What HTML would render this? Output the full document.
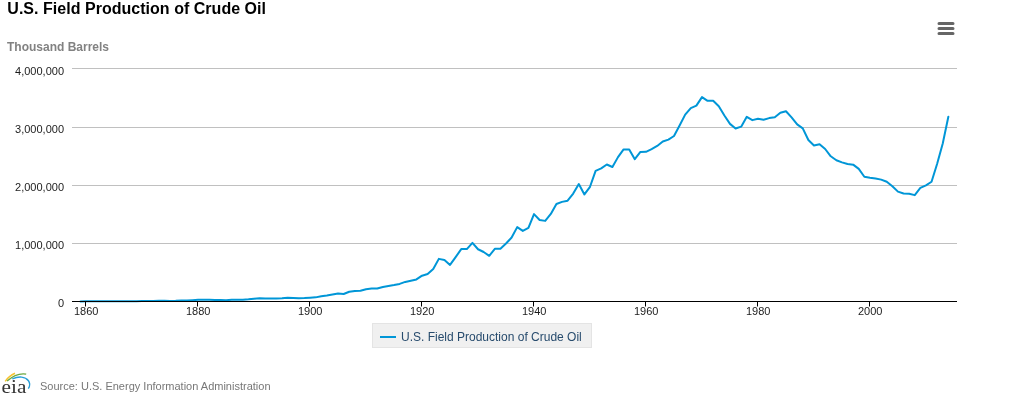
<!DOCTYPE html>
<html><head><meta charset="utf-8"><title>U.S. Field Production of Crude Oil</title>
<style>
html,body{margin:0;padding:0;background:#fff;}
body{width:1033px;height:408px;overflow:hidden;position:relative;font-family:"Liberation Sans",Arial,sans-serif;}
svg{position:absolute;left:0;top:0;}
svg text{font-family:"Liberation Sans",Arial,sans-serif;}
</style></head><body>
<svg width="1033" height="408" viewBox="0 0 1033 408">
<rect x="0" y="0" width="1033" height="408" fill="#fff"/>
<text x="7.3" y="13.5" font-size="16" font-weight="bold" fill="#000" textLength="258.7" lengthAdjust="spacing">U.S. Field Production of Crude Oil</text>
<text x="7" y="51" font-size="12" font-weight="bold" fill="#828282">Thousand Barrels</text>
<g><path d="M 72 243.5 L 957 243.5" stroke="#C0C0C0" stroke-width="1" fill="none"/><path d="M 72 185.5 L 957 185.5" stroke="#C0C0C0" stroke-width="1" fill="none"/><path d="M 72 127.5 L 957 127.5" stroke="#C0C0C0" stroke-width="1" fill="none"/><path d="M 72 68.5 L 957 68.5" stroke="#C0C0C0" stroke-width="1" fill="none"/></g>
<g font-size="11" fill="#1c1c1c"><text x="64" y="307" text-anchor="end">0</text><text x="64" y="249" text-anchor="end">1,000,000</text><text x="64" y="191" text-anchor="end">2,000,000</text><text x="64" y="133" text-anchor="end">3,000,000</text><text x="64" y="75" text-anchor="end">4,000,000</text></g>
<path d="M 80.50 301.40 L 86.10 301.37 L 91.70 301.28 L 97.30 301.22 L 102.90 301.25 L 108.50 301.28 L 114.09 301.25 L 119.69 301.19 L 125.29 301.21 L 130.89 301.19 L 136.49 301.16 L 142.09 301.09 L 147.69 301.10 L 153.29 301.03 L 158.89 300.83 L 164.49 300.77 L 170.08 300.89 L 175.68 300.87 L 181.28 300.62 L 186.88 300.51 L 192.48 300.24 L 198.08 299.87 L 203.68 299.79 L 209.28 299.64 L 214.88 300.04 L 220.48 299.99 L 226.07 300.13 L 231.67 299.77 L 237.27 299.76 L 242.87 299.80 L 248.47 299.36 L 254.07 298.74 L 259.67 298.25 L 265.27 298.47 L 270.87 298.59 L 276.47 298.53 L 282.06 298.33 L 287.66 297.86 L 293.26 297.89 L 298.86 298.19 L 304.46 298.09 L 310.06 297.71 L 315.66 297.37 L 321.26 296.25 L 326.86 295.57 L 332.46 294.60 L 338.06 293.58 L 343.65 294.05 L 349.25 291.75 L 354.85 291.03 L 360.45 290.76 L 366.05 289.23 L 371.65 288.60 L 377.25 288.45 L 382.85 286.97 L 388.45 285.97 L 394.04 285.08 L 399.64 283.93 L 405.24 281.93 L 410.84 280.73 L 416.44 279.43 L 422.04 275.68 L 427.64 273.98 L 433.24 269.02 L 438.84 258.87 L 444.44 259.94 L 450.03 264.93 L 455.63 257.15 L 461.23 249.07 L 466.83 249.05 L 472.43 242.90 L 478.03 249.25 L 483.63 251.98 L 489.23 255.81 L 494.83 248.81 L 500.43 248.67 L 506.02 243.53 L 511.62 237.54 L 517.22 227.12 L 522.82 230.88 L 528.42 227.94 L 534.02 214.11 L 539.62 219.97 L 545.22 220.88 L 550.82 213.97 L 556.42 203.96 L 562.01 201.89 L 567.61 200.71 L 573.21 193.56 L 578.81 184.09 L 584.41 194.44 L 590.01 186.79 L 595.61 170.88 L 601.21 168.43 L 606.81 164.52 L 612.41 166.97 L 618.00 157.13 L 623.60 149.41 L 629.20 149.44 L 634.80 159.19 L 640.40 151.89 L 646.00 151.87 L 651.60 149.15 L 657.20 145.99 L 662.80 141.55 L 668.40 139.57 L 674.00 135.99 L 679.59 125.58 L 685.19 114.66 L 690.79 108.08 L 696.39 105.60 L 701.99 97.14 L 707.59 100.83 L 713.19 100.75 L 718.79 106.23 L 724.39 115.43 L 729.99 123.89 L 735.58 128.57 L 741.18 126.65 L 746.78 116.84 L 752.38 120.15 L 757.98 118.69 L 763.58 119.72 L 769.18 118.09 L 774.78 117.26 L 780.38 112.69 L 785.98 111.25 L 791.57 117.42 L 797.17 124.44 L 802.77 128.40 L 808.37 140.04 L 813.97 145.50 L 819.57 144.20 L 825.17 148.99 L 830.77 156.28 L 836.37 160.20 L 841.97 162.36 L 847.56 164.01 L 853.16 164.65 L 858.76 168.89 L 864.36 176.74 L 869.96 177.67 L 875.56 178.44 L 881.16 179.62 L 886.76 181.77 L 892.36 186.23 L 897.96 191.64 L 903.55 193.56 L 909.15 193.80 L 914.75 195.13 L 920.35 187.92 L 925.95 185.37 L 931.55 181.78 L 937.15 163.77 L 942.75 143.45 L 948.35 116.74" fill="none" stroke="#0096D7" stroke-width="2" stroke-linejoin="round" stroke-linecap="round"/>
<path d="M 72 301.5 L 957 301.5" stroke="#000" stroke-width="1" fill="none"/>
<g><path d="M 85.5 301.5 L 85.5 306.5" stroke="#000" stroke-width="1" fill="none"/><path d="M 197.5 301.5 L 197.5 306.5" stroke="#000" stroke-width="1" fill="none"/><path d="M 309.5 301.5 L 309.5 306.5" stroke="#000" stroke-width="1" fill="none"/><path d="M 421.5 301.5 L 421.5 306.5" stroke="#000" stroke-width="1" fill="none"/><path d="M 533.5 301.5 L 533.5 306.5" stroke="#000" stroke-width="1" fill="none"/><path d="M 645.5 301.5 L 645.5 306.5" stroke="#000" stroke-width="1" fill="none"/><path d="M 757.5 301.5 L 757.5 306.5" stroke="#000" stroke-width="1" fill="none"/><path d="M 869.5 301.5 L 869.5 306.5" stroke="#000" stroke-width="1" fill="none"/></g>
<g font-size="11" fill="#1c1c1c"><text x="86.2" y="315" text-anchor="middle">1860</text><text x="198.2" y="315" text-anchor="middle">1880</text><text x="310.2" y="315" text-anchor="middle">1900</text><text x="422.2" y="315" text-anchor="middle">1920</text><text x="534.2" y="315" text-anchor="middle">1940</text><text x="646.2" y="315" text-anchor="middle">1960</text><text x="758.2" y="315" text-anchor="middle">1980</text><text x="870.2" y="315" text-anchor="middle">2000</text></g>
<g>
<rect x="372.5" y="323.5" width="219" height="24" fill="#f0f0f0" stroke="#e4e4e4" stroke-width="1"/>
<path d="M 380 337 L 396 337" stroke="#0096D7" stroke-width="2" fill="none"/>
<text x="401" y="341" font-size="12" fill="#274b6d">U.S. Field Production of Crude Oil</text>
</g>
<g stroke="#666" stroke-width="3" stroke-linecap="round" fill="none">
<path d="M 939 23.5 L 953 23.5 M 939 28.5 L 953 28.5 M 939 33.5 L 953 33.5"/>
</g>
<g>
<path d="M 5.2 381.4 Q 9 375.8 15 373.3" stroke="#f5c330" stroke-width="1.5" fill="none"/>
<path d="M 7.1 381 Q 16.7 372.5 26.2 374.1" stroke="#6aa842" stroke-width="1.4" fill="none"/>
<path d="M 12.3 378.8 Q 17 376.8 21.5 377.1 C 27 377.5, 32.3 382.5, 28.3 388.7" stroke="#2a9fd8" stroke-width="1.4" fill="none"/>
<text x="1.6" y="392.5" font-size="19" fill="#333" textLength="24.8" lengthAdjust="spacingAndGlyphs" style="font-family:'Liberation Serif',serif">eia</text>
</g>
<text x="40" y="390" font-size="11" fill="#777">Source: U.S. Energy Information Administration</text>
</svg>
</body></html>
